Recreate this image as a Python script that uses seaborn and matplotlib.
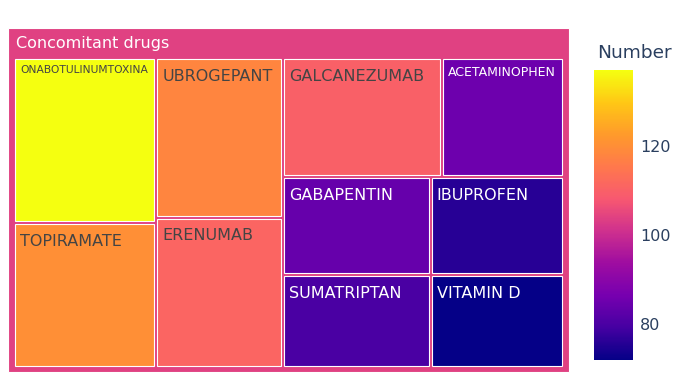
import matplotlib
matplotlib.use("Agg")
import matplotlib.pyplot as plt
import seaborn as sns
import numpy as np
import pandas as pd
import colorsys
from matplotlib.patches import Rectangle
from matplotlib.colors import Normalize, to_rgb
from matplotlib.cm import ScalarMappable

# ---- data ----
root_label = "Concomitant drugs"
drugs = ["ONABOTULINUMTOXINA", "TOPIRAMATE", "UBROGEPANT", "ERENUMAB", "GALCANEZUMAB",
         "ACETAMINOPHEN", "GABAPENTIN", "SUMATRIPTAN", "IBUPROFEN", "VITAMIN D"]
numbers = [137, 120, 118, 111, 110, 85, 84, 80, 76, 72]
cbar_title = "Number"
cbar_ticks = [80, 100, 120]

df = pd.DataFrame({"drug": drugs, "Number": numbers}).sort_values("Number", ascending=False)

sns.set_theme(style="white")
plt.rcParams["font.family"] = ["DejaVu Sans"]

W, H = 685, 385
PX = 0.72  # points per pixel at dpi 100
fig = plt.figure(figsize=(W / 100, H / 100), dpi=100)
ax = fig.add_axes([0, 0, 1, 1])
ax.set_xlim(0, W)
ax.set_ylim(H, 0)
ax.axis("off")

plasma = ['#0d0887', '#46039f', '#7201a8', '#9c179e', '#bd3786', '#d8576b',
          '#ed7953', '#fb9f3a', '#fdca26', '#f0f921']


def vivid(c):
    h, s, v = colorsys.rgb_to_hsv(*to_rgb(c))
    s = min(1.0, s * 1.08)
    v = min(1.0, v + 0.5 * max(0.0, v - 0.6))
    return colorsys.hsv_to_rgb(h, s, v)


cmap = sns.blend_palette([vivid(c) for c in plasma], as_cmap=True)
norm = Normalize(vmin=min(numbers), vmax=max(numbers))


def squarify(vals, x0, y0, x1, y1, ratio=1.0):
    rects = []
    n = len(vals)
    i0 = 0
    value = float(sum(vals))
    while i0 < n:
        dx, dy = x1 - x0, y1 - y0
        i1 = i0
        s = mn = mx = vals[i1]
        i1 += 1
        alpha = max(dy / dx, dx / dy) / (value * ratio)
        beta = s * s * alpha
        minr = max(mx / beta, beta / mn)
        while i1 < n:
            v = vals[i1]
            s += v
            mn = min(mn, v)
            mx = max(mx, v)
            beta = s * s * alpha
            nr = max(mx / beta, beta / mn)
            if nr > minr:
                s -= v
                break
            minr = nr
            i1 += 1
        row = vals[i0:i1]
        if dx < dy:
            yy = y0 + dy * s / value
            xx = x0
            for v in row:
                w = dx * v / s
                rects.append((xx, y0, w, yy - y0))
                xx += w
            y0 = yy
        else:
            xx = x0 + dx * s / value
            yy = y0
            for v in row:
                h = dy * v / s
                rects.append((x0, yy, xx - x0, h))
                yy += h
            x0 = xx
        value -= s
        i0 = i1
    return rects


vals = df["Number"].tolist()
labels = df["drug"].tolist()

# root box
root_val = sum(v * v for v in vals) / sum(vals)
rx0, ry0, rx1, ry1 = 8, 28, 569, 372
ax.add_patch(Rectangle((rx0, ry0), rx1 - rx0, ry1 - ry0, facecolor=cmap(norm(root_val)),
                       edgecolor="white", linewidth=0.8))
ax.text(16, ry0 + 20, root_label, color="white", fontsize=16 * PX, va="baseline", ha="left")

rects = squarify(vals, 13.5, 57.5, 563.5, 367.5)
renderer = fig.canvas.get_renderer()
pad = 1.5
for (x, y, w, h), lab, v in zip(rects, labels, vals):
    c = cmap(norm(v))
    ax.add_patch(Rectangle((x + pad, y + pad), w - 2 * pad, h - 2 * pad, facecolor=c,
                           edgecolor="white", linewidth=0.8))
    lum = 0.299 * c[0] + 0.587 * c[1] + 0.114 * c[2]
    tcol = "#444444" if lum > 0.5 else "white"
    fs = 16.0
    t = ax.text(0, 0, lab, fontsize=fs * PX)
    tw = t.get_window_extent(renderer).width
    t.remove()
    avail = (w - 2 * pad) - 11
    if tw > avail:
        fs = fs * avail / tw
    ax.text(x + pad + 5, y + pad + 1.35 * fs, lab, fontsize=fs * PX, color=tcol,
            va="baseline", ha="left")

# colorbar
cax = fig.add_axes([594 / W, (H - 360) / H, 39 / W, 290 / H])
sm = ScalarMappable(norm=norm, cmap=cmap)
cb = fig.colorbar(sm, cax=cax)
cb.outline.set_visible(False)
cb.set_ticks(cbar_ticks)
cb.ax.tick_params(length=0, labelsize=16 * PX, labelcolor="#2a3f5f", pad=5)
fig.text(597 / W, 1 - 58 / H, cbar_title, fontsize=18.5 * PX, color="#2a3f5f",
         va="baseline", ha="left")

fig.savefig("out.png", dpi=100)
